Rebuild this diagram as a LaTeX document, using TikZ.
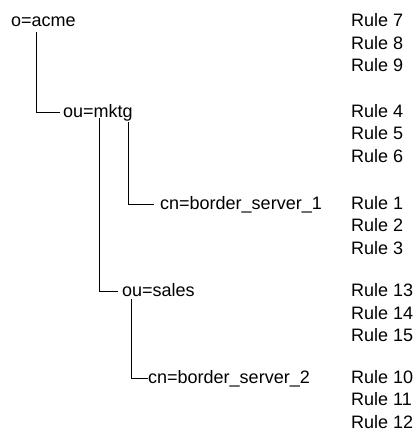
\documentclass[tikz,border=0pt]{standalone}
\usepackage{fontspec}
\setmainfont{Liberation Sans}

\tikzstyle{entry} = [anchor=base west, inner sep=0pt, text height=13pt, text depth=3pt, font=\fontsize{18pt}{20pt}\selectfont]
\tikzstyle{ruletext} = [entry]
\tikzstyle{branch} = [line width=1pt, line cap=rect]

\begin{document}
\begin{tikzpicture}[x=1pt, y=-1pt]
  \useasboundingbox (0,0) rectangle (418,434);

  \node[entry](acme)  at (11,26.5)  {o=acme};
  \node[entry](mktg)  at (63,117)   {ou=mktg};
  \node[entry](bsone) at (160,209)  {cn=border\_server\_1};
  \node[entry](sales) at (122,296.5) {ou=sales};
  \node[entry](bstwo) at (148,383)  {cn=border\_server\_2};

  \node[ruletext](r7)  at (351,26.5) {Rule 7};
  \node[ruletext](r8)  at ([yshift=-22.5pt]r7.base west) {Rule 8};
  \node[ruletext](r9)  at ([yshift=-22.5pt]r8.base west) {Rule 9};

  \node[ruletext](r4)  at (r7.base west |- mktg.base) {Rule 4};
  \node[ruletext](r5)  at ([yshift=-22.5pt]r4.base west) {Rule 5};
  \node[ruletext](r6)  at ([yshift=-22.5pt]r5.base west) {Rule 6};

  \node[ruletext](r1)  at (r7.base west |- bsone.base) {Rule 1};
  \node[ruletext](r2)  at ([yshift=-22.5pt]r1.base west) {Rule 2};
  \node[ruletext](r3)  at ([yshift=-22.5pt]r2.base west) {Rule 3};

  \node[ruletext](r13) at (r7.base west |- sales.base) {Rule 13};
  \node[ruletext](r14) at ([yshift=-22.5pt]r13.base west) {Rule 14};
  \node[ruletext](r15) at ([yshift=-22.5pt]r14.base west) {Rule 15};

  \node[ruletext](r10) at (r7.base west |- bstwo.base) {Rule 10};
  \node[ruletext](r11) at ([yshift=-22.5pt]r10.base west) {Rule 11};
  \node[ruletext](r12) at ([yshift=-22.5pt]r11.base west) {Rule 12};

  \draw[branch] ([xshift=25pt, yshift=-2.5pt]acme.south west) |- ([xshift=-4pt]mktg.west);
  \draw[branch] ([xshift=36pt, yshift=2pt]mktg.south west) |- ([xshift=-5pt]sales.west);
  \draw[branch] ([xshift=65pt, yshift=-2pt]mktg.south west) |- ([xshift=-7pt]bsone.west);
  \draw[branch] ([xshift=9pt]sales.south west) |- ([xshift=-1pt]bstwo.west);

\end{tikzpicture}
\end{document}
